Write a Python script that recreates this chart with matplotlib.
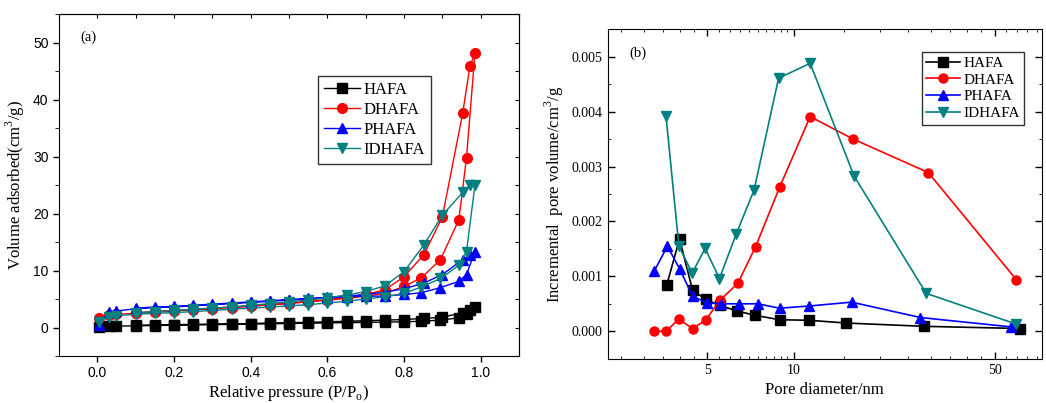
import numpy as np
import matplotlib.pyplot as plt
from matplotlib.ticker import MultipleLocator, LogLocator, FixedLocator, NullFormatter

# (a) N2 isotherms: adsorption branch then desorption branch
p_ads = [0.005, 0.03, 0.05, 0.10, 0.15, 0.20, 0.25, 0.30, 0.35, 0.40, 0.45, 0.50,
         0.55, 0.60, 0.65, 0.70, 0.75, 0.80, 0.845, 0.895, 0.943, 0.963, 0.985]
p_des = [0.972, 0.953, 0.90, 0.852, 0.80, 0.75, 0.70, 0.65, 0.60, 0.55, 0.50,
         0.45, 0.40, 0.35, 0.30, 0.25, 0.20, 0.15, 0.10]

hafa_ads = [0.1, 0.2, 0.25, 0.3, 0.35, 0.4, 0.45, 0.5, 0.55, 0.6, 0.65, 0.7,
            0.75, 0.8, 0.85, 0.9, 0.95, 1.0, 1.1, 1.3, 1.7, 2.4, 3.6]
hafa_des = [3.0, 2.6, 1.8, 1.6, 1.4, 1.3, 1.2, 1.1, 1.0, 0.9, 0.85, 0.8, 0.7,
            0.65, 0.6, 0.55, 0.5, 0.45, 0.4]
dhafa_ads = [1.7, 2.2, 2.3, 2.5, 2.7, 2.9, 3.1, 3.3, 3.5, 3.7, 4.0, 4.2,
             4.5, 4.8, 5.1, 5.5, 6.0, 7.2, 8.7, 11.9, 18.9, 29.8, 48.1]
dhafa_des = [45.9, 37.6, 19.4, 12.8, 8.9, 6.6, 5.8, 5.3, 4.9, 4.6, 4.3, 4.0,
             3.8, 3.6, 3.4, 3.2, 3.0, 2.8, 2.6]
phafa_ads = [0.5, 2.7, 2.9, 3.3, 3.5, 3.6, 3.8, 4.0, 4.2, 4.4, 4.6, 4.8,
             5.0, 5.2, 5.4, 5.5, 5.5, 5.8, 6.1, 7.0, 8.1, 9.3, 13.3]
phafa_des = [12.8, 11.9, 9.3, 7.8, 6.8, 6.2, 5.8, 5.5, 5.3, 5.1, 4.9, 4.7,
             4.5, 4.3, 4.1, 3.9, 3.7, 3.6, 3.4]
idhafa_ads = [1.0, 1.9, 2.1, 2.3, 2.5, 2.6, 2.8, 3.0, 3.2, 3.4, 3.6, 3.8,
              4.0, 4.3, 4.6, 5.0, 5.4, 6.0, 7.1, 8.6, 10.9, 13.3, 25.0]
idhafa_des = [25.0, 23.7, 19.7, 14.5, 9.8, 7.3, 6.3, 5.7, 5.2, 4.8, 4.5, 4.2,
              3.9, 3.6, 3.4, 3.2, 3.0, 2.8, 2.6]

# (b) pore size distribution
d_hafa = [3.61, 4.0, 4.44, 4.93, 5.54, 6.34, 7.33, 8.92, 11.3, 15.2, 28.4, 61.3]
v_hafa = [0.00084, 0.00168, 0.00075, 0.00058, 0.00047, 0.00037, 0.00029,
          0.00021, 0.00020, 0.00015, 0.00009, 0.00005]
d_dhafa = [3.27, 3.59, 3.98, 4.44, 4.93, 5.54, 6.38, 7.36, 8.92, 11.4, 16.1, 29.4, 59.5]
v_dhafa = [0.0, 0.0, 0.00022, 0.00005, 0.00020, 0.00057, 0.00087, 0.00154,
           0.00262, 0.00391, 0.00350, 0.00289, 0.00094]
d_phafa = [3.27, 3.63, 4.0, 4.44, 4.97, 5.58, 6.45, 7.5, 8.92, 11.3, 15.9, 27.6, 57.0]
v_phafa = [0.00110, 0.00155, 0.00114, 0.00064, 0.00052, 0.00050, 0.00050,
           0.00050, 0.00042, 0.00046, 0.00053, 0.00025, 0.00008]
d_idhafa = [3.59, 3.98, 4.43, 4.91, 5.51, 6.31, 7.27, 8.85, 11.4, 16.2, 28.9, 59.5]
v_idhafa = [0.00392, 0.00155, 0.00106, 0.00151, 0.00096, 0.00178, 0.00257,
            0.00461, 0.00488, 0.00283, 0.00069, 0.00013]

names = ["HAFA", "DHAFA", "PHAFA", "IDHAFA"]
colors = ["black", "red", "blue", "#008080"]
markers = ["s", "o", "^", "v"]

serif = "Liberation Serif"
sans = "Liberation Sans"

fig = plt.figure(figsize=(10.46, 4.03), dpi=100)
ax1 = fig.add_axes([0.0564, 0.1166, 0.4398, 0.8486])
ax2 = fig.add_axes([0.581, 0.1099, 0.415, 0.8174])

# ---- panel (a)
ads = [hafa_ads, dhafa_ads, phafa_ads, idhafa_ads]
des = [hafa_des, dhafa_des, phafa_des, idhafa_des]
for name, c, m, a, d in zip(names, colors, markers, ads, des):
    ax1.plot(p_ads + p_des, a + d, color=c, marker=m, markersize=7,
             linewidth=1, label=name)

ax1.set_xlim(-0.1, 1.1)
ax1.set_ylim(-5, 55)
ax1.xaxis.set_major_locator(MultipleLocator(0.2))
ax1.yaxis.set_major_locator(MultipleLocator(10))
ax1.yaxis.set_minor_locator(MultipleLocator(5))
ax1.tick_params(direction="out", length=4, width=1, labelsize=10)
ax1.tick_params(which="minor", direction="out", length=3)
for lab in ax1.get_xticklabels() + ax1.get_yticklabels():
    lab.set_fontfamily(sans)
top1 = ax1.secondary_xaxis("top")
top1.xaxis.set_major_locator(MultipleLocator(0.1))
top1.tick_params(direction="in", length=3, labeltop=False)
right1 = ax1.secondary_yaxis("right")
right1.yaxis.set_major_locator(MultipleLocator(5))
right1.tick_params(direction="in", length=3, labelright=False)

ax1.set_xlabel("Relative pressure (P/P$_\\mathregular{o}$)", fontfamily=serif, fontsize=12, labelpad=2)
ax1.set_ylabel("Volume adsorbed(cm$^\\mathregular{3}$/g)", fontfamily=serif, fontsize=12)
ax1.text(0.046, 0.922, "(a)", transform=ax1.transAxes, fontfamily=serif, fontsize=10.5)
leg1 = ax1.legend(loc="upper left", bbox_to_anchor=(0.563, 0.819), prop={"family": serif, "size": 12},
                  fancybox=False, edgecolor="black", handlelength=2.2, labelspacing=0.25,
                  borderpad=0.35, handletextpad=0.2, borderaxespad=0)
leg1.get_frame().set_linewidth(1)

# ---- panel (b)
dd = [d_hafa, d_dhafa, d_phafa, d_idhafa]
vv = [v_hafa, v_dhafa, v_phafa, v_idhafa]
for name, c, m, d, v in zip(names, colors, markers, dd, vv):
    ax2.plot(d, v, color=c, marker=m, markersize=6.5, linewidth=1.2, label=name)

ax2.set_xscale("log")
ax2.set_xlim(2.25, 73)
ax2.set_ylim(-0.0005, 0.0055)
ax2.xaxis.set_major_locator(FixedLocator([5, 10, 50]))
ax2.xaxis.set_major_formatter(plt.FuncFormatter(lambda x, pos: "%d" % x))
ax2.xaxis.set_minor_locator(LogLocator(base=10, subs=np.arange(1, 10, 0.5)))
ax2.xaxis.set_minor_formatter(NullFormatter())
ax2.yaxis.set_major_locator(MultipleLocator(0.001))
ax2.yaxis.set_minor_locator(MultipleLocator(0.0005))
ax2.yaxis.set_major_formatter(plt.FuncFormatter(lambda y, pos: "%.3f" % y))
ax2.tick_params(direction="in", length=5, width=1, labelsize=10, top=True, right=True)
ax2.tick_params(which="minor", direction="in", length=2.5, top=True, right=True)
for lab in ax2.get_xticklabels() + ax2.get_yticklabels():
    lab.set_fontfamily(serif)

ax2.set_xlabel("Pore diameter/nm", fontfamily=serif, fontsize=12)
ax2.set_ylabel("Incremental  pore volume/cm$^\\mathregular{3}$/g", fontfamily=serif, fontsize=12)
ax2.text(0.05, 0.917, "(b)", transform=ax2.transAxes, fontfamily=serif, fontsize=10.5)
leg2 = ax2.legend(loc="upper left", bbox_to_anchor=(0.7235, 0.932), prop={"family": serif, "size": 11},
                  fancybox=False, edgecolor="black", handlelength=2.2, labelspacing=0.2,
                  borderpad=0.3, handletextpad=0.2, borderaxespad=0)
leg2.get_frame().set_linewidth(1)

fig.savefig("out.png", dpi=100)
